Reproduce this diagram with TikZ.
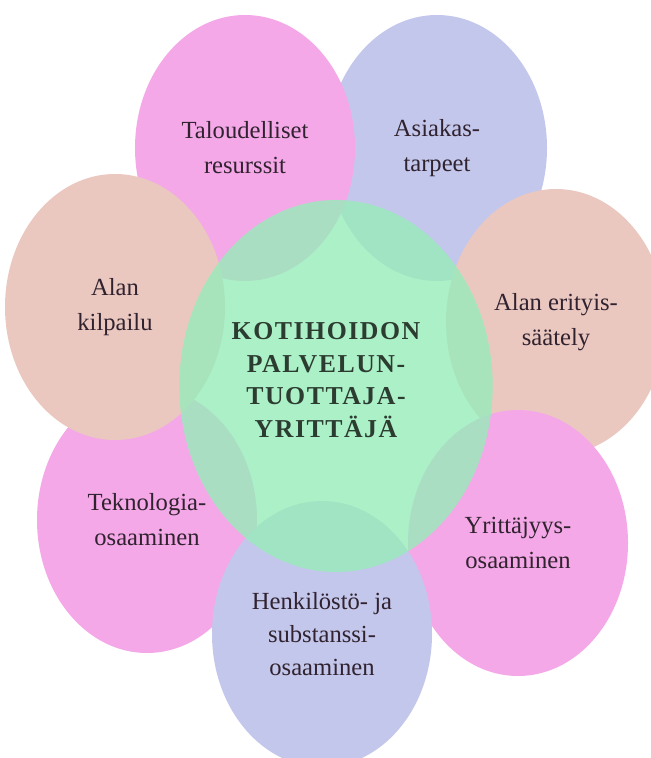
\documentclass[tikz,border=0pt]{standalone}
\usepackage{fontspec}
\setmainfont{Liberation Serif}
\usetikzlibrary{shapes.geometric}
\definecolor{petalPink}{RGB}{244,168,232}
\definecolor{petalLilac}{RGB}{196,199,236}
\definecolor{petalPeach}{RGB}{234,200,192}
\definecolor{coreGreen}{RGB}{151,236,186}
\definecolor{petalText}{RGB}{48,34,46}
\definecolor{coreText}{RGB}{44,60,48}
\tikzset{
    petalBlock/.style={
        ellipse, draw=none, minimum width=6.6cm, minimum height=7.98cm, align=center, inner sep=0pt, font=\fontsize{21}{30}\selectfont, text=petalText
    },
    pinkPetal/.style={
        petalBlock, fill=petalPink
    },
    lilacPetal/.style={
        petalBlock, fill=petalLilac
    },
    peachPetal/.style={
        petalBlock, fill=petalPeach
    },
    coreBlock/.style={
        ellipse, draw=none, fill=coreGreen, fill opacity=0.8, minimum width=9.4cm, minimum height=11.16cm, inner sep=0pt
    },
    coreLabel/.style={
        align=center, inner sep=0pt, text=coreText, font=\fontsize{22}{28}\selectfont\bfseries\addfontfeature{LetterSpace=6}
    }
}

\begin{document}
\begin{tikzpicture}[x=0.03cm, y=-0.03cm]
    \useasboundingbox (0, 0) rectangle (651, 758);

    % ── OUTER PETALS (back to front)
    \node[lilacPetal] (asiakas) at (437, 148) {Asiakas-\\tarpeet};
    \node[pinkPetal] (talous) at (245, 148) {Taloudelliset\\resurssit};
    \node[pinkPetal] (tekno) at (147, 520) {Teknologia-\\osaaminen};
    \node[peachPetal] (kilpailu) at (115, 307) {Alan\\kilpailu};
    \node[peachPetal] (saately) at (556, 322) {Alan erityis-\\s\"{a}\"{a}tely};
    \node[pinkPetal] (yrittajyys) at (518, 543) {Yritt\"{a}jyys-\\osaaminen};
    \node[lilacPetal, font=\fontsize{21}{28}\selectfont] (henkilosto) at (322, 634) {Henkil\"{o}st\"{o}- ja\\substanssi-\\osaaminen};

    % ── CENTRE
    \node[coreBlock] (yrittaja) at (336, 386) {};
    \node[coreLabel] (yrittajaText) at (326, 380) {KOTIHOIDON\\PALVELUN-\\TUOTTAJA-\\YRITT\"{A}J\"{A}};
\end{tikzpicture}
\end{document}
